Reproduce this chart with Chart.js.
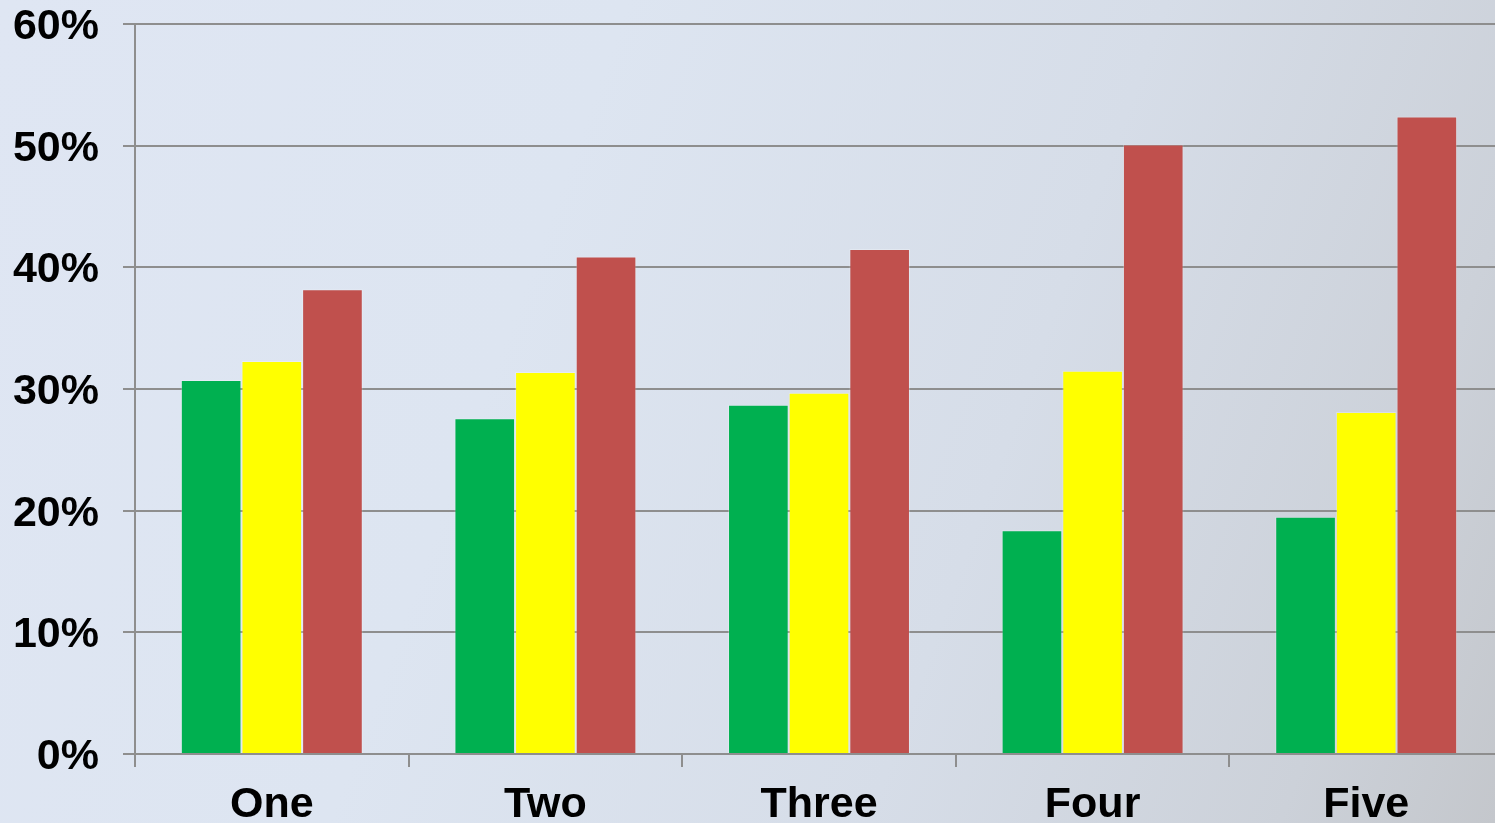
<!DOCTYPE html>
<html>
<head>
<meta charset="utf-8">
<script src="https://cdn.jsdelivr.net/npm/chart.js@4/dist/chart.umd.min.js"></script>
<style>
  html, body { margin: 0; padding: 0; overflow: hidden; }
  body {
    width: 1495px; height: 823px;
    background: linear-gradient(110deg, #dfe6f3 0%, #dde5f1 35%, #d6dde8 65%, #ccd1d9 88%, #c4c7cc 100%);
  }
  #wrap { position: absolute; left: 0; top: 0; width: 1503px; height: 823px; }
</style>
</head>
<body>
<div id="wrap"><canvas id="c"></canvas></div>
<script>
const categories = ['One', 'Two', 'Three', 'Four', 'Five'];
const greenValues  = [30.75, 27.6, 28.7, 18.4, 19.5];
const yellowValues = [32.3, 31.4, 29.7, 31.5, 28.1];
const redValues    = [38.2, 40.9, 41.5, 50.1, 52.4];
const yTicks = [0, 10, 20, 30, 40, 50, 60];

const gridColor = '#8e8e8e';
const font = { family: '"Liberation Sans", Arial, sans-serif', size: 43, weight: 'bold' };

new Chart(document.getElementById('c'), {
  type: 'bar',
  data: {
    labels: categories,
    datasets: [
      { data: greenValues,  backgroundColor: '#00b050', borderColor: 'rgba(255,255,255,0.25)', borderWidth: 1 },
      { data: yellowValues, backgroundColor: '#ffff00', borderColor: 'rgba(255,255,255,0.25)', borderWidth: 1 },
      { data: redValues,    backgroundColor: '#c0504d', borderColor: 'rgba(255,255,255,0.25)', borderWidth: 1 }
    ]
  },
  options: {
    responsive: true,
    maintainAspectRatio: false,
    animation: false,
    layout: { padding: 0 },
    datasets: { bar: { categoryPercentage: 0.665, barPercentage: 1.0 } },
    plugins: { legend: { display: false }, tooltip: { enabled: false } },
    scales: {
      x: {
        grid: { display: true, drawOnChartArea: false, color: gridColor, lineWidth: 2, tickLength: 13, offset: true },
        border: { display: true, color: gridColor, width: 2 },
        ticks: { color: '#000', font: font, padding: 12, maxRotation: 0 },
        afterFit(s) { s.height = 69; s.paddingLeft = 0; s.paddingRight = 0; }
      },
      y: {
        min: 0, max: 60,
        afterBuildTicks(s) { s.ticks = yTicks.map(v => ({ value: v })); },
        grid: { color: gridColor, lineWidth: 2, tickLength: 12 },
        border: { display: true, color: gridColor, width: 2 },
        ticks: { color: '#000', font: font, padding: 24, labelOffset: 3, callback: v => v + '%' },
        afterFit(s) { s.width = 135; s.paddingTop = 24; s.paddingBottom = 0; }
      }
    }
  }
});
</script>
</body>
</html>
